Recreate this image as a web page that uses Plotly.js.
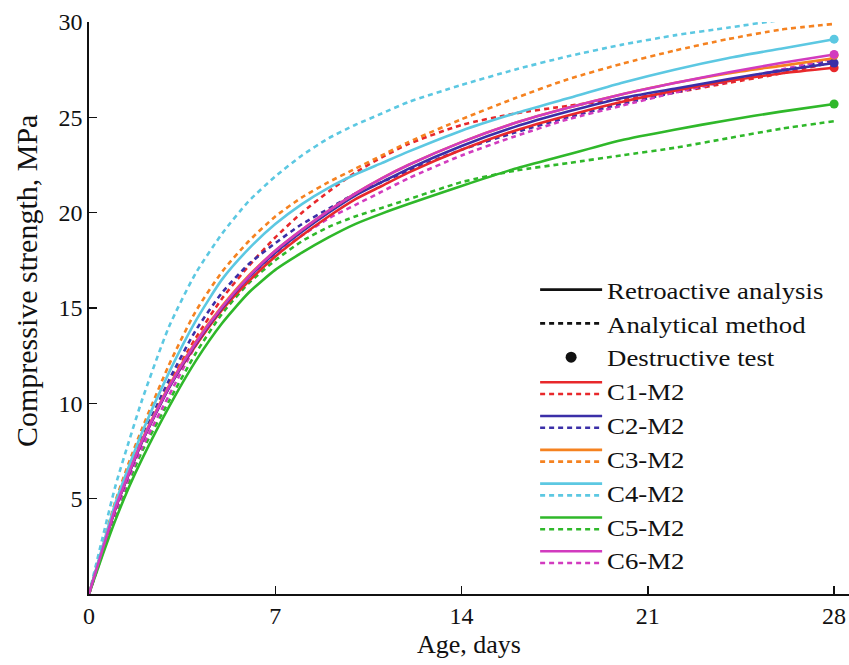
<!DOCTYPE html>
<html>
<head>
<meta charset="utf-8">
<script src="https://cdn.plot.ly/plotly-3.0.1.min.js"></script>
<style>
html,body{margin:0;padding:0;background:#fff;}
#chart{width:849px;height:665px;}
.legendtext{transform-box:fill-box;transform-origin:0% 50%;transform:scaleX(1.13);}
</style>
</head>
<body>
<div id="chart"></div>
<script>
// Age in days
const days = [0,0.5,1,1.5,2,3,4,5,6,7,8,9,10,11,12,14,16,18,20,22,24,26,28];
const seriesNames = ['C1-M2','C2-M2','C3-M2','C4-M2','C5-M2','C6-M2'];

// Retroactive analysis (solid lines), MPa
const retroC1 = [0,2.3,4.5,6.3,8.0,10.8,13.0,14.9,16.4,17.7,18.8,19.8,20.7,21.4,22.1,23.3,24.3,25.1,25.8,26.4,26.9,27.3,27.6];
const retroC2 = [0,2.3,4.5,6.3,8.0,10.8,13.1,15.0,16.6,17.9,19.0,20.0,20.9,21.6,22.3,23.5,24.5,25.3,26.0,26.5,27.0,27.45,27.85];
const retroC3 = [0,2.35,4.6,6.4,8.1,10.9,13.2,15.1,16.7,18.0,19.1,20.1,21.0,21.8,22.5,23.7,24.7,25.5,26.2,26.8,27.3,27.7,28.1];
const retroC4 = [0,2.45,4.8,6.7,8.5,11.6,14.3,16.5,18.1,19.4,20.45,21.3,22.0,22.6,23.2,24.3,25.2,26.0,26.8,27.5,28.1,28.6,29.1];
const retroC5 = [0,2.0,3.9,5.6,7.1,9.8,12.2,14.2,15.8,17.0,17.9,18.7,19.4,19.95,20.45,21.4,22.3,23.05,23.8,24.35,24.85,25.3,25.7];
const retroC6 = [0,2.3,4.55,6.35,8.05,10.85,13.15,15.05,16.65,18.0,19.1,20.1,21.0,21.8,22.5,23.7,24.7,25.5,26.2,26.8,27.35,27.85,28.3];

// Analytical method (dotted lines), MPa
const analC1 = [0,2.35,4.6,6.5,8.2,11.0,13.4,15.5,17.2,18.7,20.0,21.1,22.1,22.9,23.6,24.6,25.2,25.6,25.95,26.3,26.8,27.3,27.9];
const analC2 = [0,2.35,4.6,6.5,8.2,11.2,13.8,15.8,17.3,18.4,19.4,20.2,21.0,21.6,22.2,23.3,24.2,25.0,25.7,26.3,26.9,27.45,28.0];
const analC3 = [0,2.5,4.9,6.9,8.7,12.0,14.8,16.9,18.5,19.8,20.8,21.6,22.3,23.0,23.7,24.9,26.0,27.0,27.8,28.5,29.1,29.6,29.9];
const analC4 = [0,2.9,5.7,8.0,10.2,14.0,16.8,18.9,20.6,21.9,23.0,23.9,24.6,25.2,25.8,26.7,27.5,28.2,28.8,29.3,29.7,30.1,30.4];
const analC5 = [0,2.1,4.2,5.9,7.5,10.1,12.6,14.7,16.3,17.5,18.5,19.25,19.8,20.25,20.7,21.6,22.2,22.6,23.0,23.4,23.9,24.4,24.8];
const analC6 = [0,2.2,4.3,6.1,7.7,10.4,13.0,15.0,16.6,17.8,18.8,19.7,20.4,21.1,21.8,23.0,24.0,24.9,25.6,26.3,26.9,27.5,28.1];

// Destructive test at 28 days, MPa
const testDay = [28];
const testValues = [27.6, 27.85, 28.25, 29.1, 25.7, 28.3];

const xTicks = [0,7,14,21,28];
const yTicks = [5,10,15,20,25,30];

const retro = [retroC1, retroC2, retroC3, retroC4, retroC5, retroC6];
const anal = [analC1, analC2, analC3, analC4, analC5, analC6];
const colors = ['#e8282b','#3b2fa8','#f58220','#5cc8e2','#2fb82a','#d23bbf'];

const FONT = 'Liberation Serif, Times New Roman, serif';
const FS = 23.7;
const dashPat = '5px,4px';
const traces = [];

// Main legend entries (style keys + series names)
traces.push({x:[null], y:[null], mode:'lines', name:'Retroactive analysis', line:{color:'#111', width:2.6}, legend:'legend', hoverinfo:'skip'});
traces.push({x:[null], y:[null], mode:'lines', name:'Analytical method', line:{color:'#111', width:2.6, dash:dashPat}, legend:'legend', hoverinfo:'skip'});
traces.push({x:[null], y:[null], mode:'markers', name:'Destructive test', marker:{color:'#111', size:11}, legend:'legend', hoverinfo:'skip'});
seriesNames.forEach(n => traces.push({x:[null], y:[null], mode:'lines', name:n, line:{color:'rgba(0,0,0,0)', width:2.6}, legend:'legend', hoverinfo:'skip'}));

// Dotted analytical curves
anal.forEach((arr,i) => traces.push({x:days, y:arr, mode:'lines', name:' ', legend:'legend3',
  line:{color:colors[i], width:2.6, dash:dashPat, shape:'spline', smoothing:0.6}}));
// Solid retroactive curves
retro.forEach((arr,i) => traces.push({x:days, y:arr, mode:'lines', name:' ', legend:'legend2',
  line:{color:colors[i], width:2.6, shape:'spline', smoothing:0.6}}));
// Destructive test markers
testValues.forEach((v,i) => traces.push({x:testDay, y:[v], mode:'markers', showlegend:false,
  marker:{color:colors[i], size:9}, cliponaxis:false}));

const legendBase = {bgcolor:'rgba(0,0,0,0)', borderwidth:0, font:{family:FONT, size:FS, color:'#111'},
  itemwidth:62, xanchor:'left', yanchor:'top', tracegroupgap:0, itemclick:false, itemdoubleclick:false};

const layout = {
  width:849, height:665,
  margin:{l:89, r:0, t:22, b:71, autoexpand:false},
  paper_bgcolor:'#fff', plot_bgcolor:'#fff',
  font:{family:FONT, size:FS, color:'#111'},
  xaxis:{range:[0,28.56], tickvals:xTicks, ticks:'inside', ticklen:8, tickwidth:1.5, tickcolor:'#111',
    showline:true, linecolor:'#111', linewidth:1.6, showgrid:false, zeroline:false, automargin:false,
    tickfont:{family:FONT, size:24, color:'#111'},
    title:{text:'Age, days', font:{family:FONT, size:26, color:'#111'}, standoff:6}},
  yaxis:{range:[0,30], tickvals:yTicks, ticks:'inside', ticklen:8, tickwidth:1.5, tickcolor:'#111',
    showline:true, linecolor:'#111', linewidth:1.6, showgrid:false, zeroline:false, automargin:false,
    tickfont:{family:FONT, size:24, color:'#111'}},
  annotations:[{text:'Compressive strength, MPa', textangle:-90, xref:'paper', yref:'paper',
    x:-0.083, y:0.547, xanchor:'center', yanchor:'middle', showarrow:false,
    font:{family:FONT, size:30, color:'#111'}}],
  legend:Object.assign({}, legendBase, {x:0.587, y:0.5705}),
  legend2:Object.assign({}, legendBase, {x:0.587, y:0.4085}),
  legend3:Object.assign({}, legendBase, {x:0.587, y:0.388}),
  showlegend:true
};

Plotly.newPlot('chart', traces, layout, {displayModeBar:false, staticPlot:true});
</script>
</body>
</html>
